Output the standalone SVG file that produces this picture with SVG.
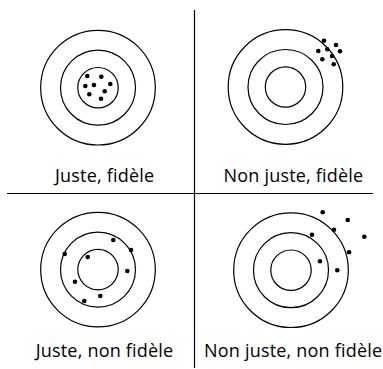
<svg xmlns="http://www.w3.org/2000/svg" width="383" height="369" viewBox="0 0 383 369">
<style>
.ring{fill:none;stroke:#000;stroke-width:1.2}
.dot{fill:#000}
.lbl{font-family:"Open Sans","Noto Sans",sans-serif;font-size:18px;letter-spacing:0.2px;fill:#000}
.div{stroke:#000;stroke-width:1.2;fill:none}
</style>
<defs>
<g id="target">
<circle class="ring" r="57.3"/>
<circle class="ring" r="37.5"/>
<circle class="ring" r="20.2"/>
</g>
</defs>
<g id="connectors">
<line class="div" x1="194.5" y1="10" x2="194.5" y2="368"/>
<line class="div" x1="7" y1="193.5" x2="373" y2="193.5"/>
</g>
<g id="juste-fidele">
<use href="#target" x="98" y="87.7"/>
<g class="dot">
<circle cx="87.3" cy="76" r="2.3"/>
<circle cx="101.3" cy="76.7" r="2.3"/>
<circle cx="85.3" cy="86" r="2.3"/>
<circle cx="94" cy="85" r="2.3"/>
<circle cx="110.3" cy="84" r="2.3"/>
<circle cx="104.7" cy="91.3" r="2.3"/>
<circle cx="89.3" cy="94.3" r="2.3"/>
<circle cx="101" cy="98.7" r="2.3"/>
</g>
<text class="lbl" x="55" y="182.3">Juste, fidèle</text>
</g>
<g id="non-juste-fidele">
<use href="#target" x="285.5" y="87"/>
<g class="dot">
<circle cx="324" cy="40.7" r="2.3"/>
<circle cx="336" cy="45" r="2.3"/>
<circle cx="318.3" cy="51" r="2.3"/>
<circle cx="327.3" cy="49.3" r="2.3"/>
<circle cx="340" cy="51.3" r="2.3"/>
<circle cx="332" cy="56" r="2.3"/>
<circle cx="322.3" cy="59.3" r="2.3"/>
<circle cx="333.7" cy="64.3" r="2.3"/>
</g>
<text class="lbl" x="223.5" y="182.3">Non juste, fidèle</text>
</g>
<g id="juste-non-fidele">
<use href="#target" x="98" y="269.6"/>
<g class="dot">
<circle cx="113.3" cy="240" r="2.3"/>
<circle cx="131" cy="250" r="2.3"/>
<circle cx="64.7" cy="254" r="2.3"/>
<circle cx="87.7" cy="257" r="2.3"/>
<circle cx="127.3" cy="271" r="2.3"/>
<circle cx="75" cy="281.7" r="2.3"/>
<circle cx="100.3" cy="296" r="2.3"/>
<circle cx="84.3" cy="301" r="2.3"/>
</g>
<text class="lbl" x="35.7" y="357.3">Juste, non fidèle</text>
</g>
<g id="non-juste-non-fidele">
<use href="#target" x="291" y="270.2"/>
<g class="dot">
<circle cx="322.7" cy="212.3" r="2.3"/>
<circle cx="347.7" cy="220" r="2.3"/>
<circle cx="334" cy="229.7" r="2.3"/>
<circle cx="312" cy="234.7" r="2.3"/>
<circle cx="364.3" cy="236.7" r="2.3"/>
<circle cx="349" cy="252.3" r="2.3"/>
<circle cx="320" cy="261.3" r="2.3"/>
<circle cx="337.3" cy="270.3" r="2.3"/>
</g>
<text class="lbl" x="204" y="357.3">Non juste, non fidèle</text>
</g>
</svg>
